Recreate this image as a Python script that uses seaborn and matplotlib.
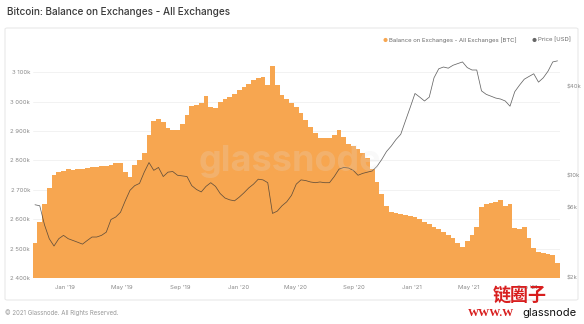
import numpy as np
import pandas as pd
import matplotlib
matplotlib.use("Agg")
import matplotlib.pyplot as plt
import matplotlib.dates as mdates
import matplotlib.ticker as mticker
from matplotlib.patches import FancyBboxPatch
import seaborn as sns

# ---------------- data ----------------
start_date = "2018-10-30"
step_days = 10

# Balance on exchanges, thousands of BTC, one value every 10 days
balance_k = [
    2520, 2590, 2650, 2705, 2750, 2760, 2765, 2770, 2768, 2772,
    2770, 2775, 2776, 2778, 2780, 2782, 2786, 2790, 2792, 2760,
    2745, 2785, 2800, 2825, 2885, 2935, 2942, 2930, 2910, 2902,
    2905, 2925, 2955, 2985, 2988, 2995, 3020, 2980, 2978, 2998,
    3008, 3016, 3025, 3038, 3048, 3060, 3072, 3080, 3084, 3055,
    3120, 3056, 3022, 3008, 2995, 2980, 2960, 2937, 2913, 2893,
    2876, 2876, 2876, 2888, 2905, 2880, 2857, 2848, 2840, 2825,
    2808, 2772, 2728, 2685, 2646, 2625, 2620, 2618, 2615, 2612,
    2606, 2600, 2592, 2583, 2574, 2565, 2556, 2546, 2536, 2520,
    2506, 2525, 2546, 2572, 2640, 2652, 2656, 2660, 2664, 2645,
    2652, 2570, 2568, 2572, 2535, 2503, 2488, 2484, 2480, 2478,
    2450,
]

# BTC price, thousands of USD, same dates
price_k = [
    6.3, 6.2, 4.6, 3.7, 3.3, 3.7, 3.9, 3.7, 3.6, 3.5,
    3.4, 3.6, 3.8, 3.8, 3.9, 4.1, 5.0, 5.2, 5.6, 6.7,
    7.9, 8.5, 8.8, 10.5, 12.2, 10.8, 11.3, 9.8, 10.5, 10.6,
    10.0, 9.9, 9.8, 8.5, 8.0, 7.7, 8.4, 8.9, 8.4, 7.5,
    7.0, 6.8, 6.7, 7.1, 7.6, 8.2, 8.7, 9.4, 9.3, 8.9,
    5.5, 5.7, 6.2, 6.6, 7.3, 8.7, 9.3, 9.2, 9.0, 8.9,
    9.0, 8.9, 8.9, 9.8, 11.0, 11.3, 11.2, 10.8, 10.0, 10.3,
    10.5, 10.7, 11.5, 12.8, 14.5, 15.8, 17.5, 19.0, 23.5, 29.0,
    36.0, 34.0, 32.0, 34.0, 46.0, 53.0, 54.5, 53.5, 56.0, 57.5,
    59.0, 54.0, 52.0, 52.0, 37.5, 35.5, 34.5, 33.5, 33.0, 32.0,
    29.5, 37.0, 41.0, 45.0, 47.0, 49.0, 43.0, 46.0, 51.0, 59.0,
    60.0,
]

left_ticks_k = [2400, 2500, 2600, 2700, 2800, 2900, 3000, 3100]
left_tick_labels = ["2 400k", "2 500k", "2 600k", "2 700k", "2 800k", "2 900k", "3 000k", "3 100k"]
right_ticks = [2000, 6000, 10000, 40000]
right_tick_labels = ["$2k", "$6k", "$10k", "$40k"]

title = "Bitcoin: Balance on Exchanges - All Exchanges"
legend_balance = "Balance on Exchanges - All Exchanges [BTC]"
legend_price = "Price [USD]"
footer = "\u00a9 2021 Glassnode. All Rights Reserved."

dates = pd.date_range(start_date, periods=len(balance_k), freq=f"{step_days}D")
df = pd.DataFrame({"date": dates,
                   "balance": np.array(balance_k) * 1000.0,
                   "price": np.array(price_k) * 1000.0})

# ---------------- figure ----------------
sns.set_theme(style="white")
plt.rcParams["font.family"] = ["Inter", "DejaVu Sans"]

W, H = 584, 324
fig = plt.figure(figsize=(W / 100, H / 100), dpi=100)
fig.patch.set_facecolor("white")

def fx(px):
    return px / W

def fy(py):
    return 1 - py / H

# card border
card = FancyBboxPatch((fx(5), fy(300)), fx(573) - fx(0), fy(28) - fy(300),
                      boxstyle="round,pad=0,rounding_size=0.004",
                      transform=fig.transFigure, facecolor="none",
                      edgecolor="#e9e9e9", linewidth=0.8, zorder=-5)
fig.patches.append(card)

ax_l, ax_r, ax_t, ax_b = 33, 560, 52, 278
ax = fig.add_axes([fx(ax_l), fy(ax_b), fx(ax_r) - fx(ax_l), fy(ax_t) - fy(ax_b)])
ax.set_facecolor("none")

orange = "#F7A650"
ax.bar(df["date"], df["balance"], width=9.6, color=orange, edgecolor="none",
       align="center", zorder=2)

d0 = pd.Timestamp(start_date)
px_per_day = 0.475
xmin = d0 - pd.Timedelta(days=(35 - ax_l) / px_per_day)
xmax = d0 + pd.Timedelta(days=(ax_r - 35) / px_per_day)
ax.set_xlim(xmin, xmax)
ax.set_ylim(2400e3, 2400e3 + (ax_b - ax_t) / 29.4 * 100e3)

ax.set_yticks([v * 1000 for v in left_ticks_k])
ax.set_yticklabels(left_tick_labels)
ax.grid(axis="y", color="#f0f0f0", linewidth=0.6, zorder=0)
ax.set_axisbelow(True)
ax.tick_params(axis="y", length=0, pad=2, labelsize=4.3, labelcolor="#8a8a8a")
ax.xaxis.set_major_locator(mdates.MonthLocator(bymonth=[1, 5, 9]))
ax.xaxis.set_major_formatter(mdates.DateFormatter("%b '%y"))
ax.tick_params(axis="x", length=0, pad=5, labelsize=4.3, labelcolor="#8a8a8a")
for s in ax.spines.values():
    s.set_visible(False)

# price on log twin axis
ax2 = ax.twinx()
sns.lineplot(data=df, x="date", y="price", ax=ax2, color="#333333",
             linewidth=0.55, alpha=0.75, zorder=3)
ax2.set_yscale("log")
ax2.set_ylim(2000, 2000 * 10 ** ((ax_b - ax_t) / 147.0))
ax2.set_xlim(xmin, xmax)
ax2.yaxis.set_major_locator(mticker.FixedLocator(right_ticks))
ax2.yaxis.set_minor_locator(mticker.NullLocator())
ax2.set_yticklabels(right_tick_labels)
ax2.tick_params(axis="y", length=0, pad=5, labelsize=4.3, labelcolor="#8a8a8a")
ax2.set_ylabel("")
ax2.set_xlabel("")
ax.set_xlabel("")
ax.set_ylabel("")
for s in ax2.spines.values():
    s.set_visible(False)

# faint centre watermark
fig.text(fx(290), fy(162), "glassnode", fontsize=26, color="#e2e2e2", alpha=0.2,
         ha="center", va="center", fontweight="bold", zorder=10)

# title
fig.text(fx(7), fy(12), title, fontsize=7.2, color="#3a3a3a", ha="left", va="center",
         fontweight="medium")

# legend
fig.text(fx(385), fy(40), "\u25cf", fontsize=4, color=orange, ha="center", va="center")
fig.text(fx(389), fy(40), legend_balance, fontsize=4.3, color="#6a6a6a", ha="left", va="center")
fig.text(fx(534), fy(40), "\u25cf", fontsize=4, color="#666666", ha="center", va="center")
fig.text(fx(538), fy(40), legend_price, fontsize=4.3, color="#6a6a6a", ha="left", va="center")

# footer
fig.text(fx(5), fy(313), footer, fontsize=4.4, color="#9a9a9a", ha="left", va="center")

# overlay watermarks at bottom right
fig.text(fx(520), fy(295), "链圈子", fontsize=13, color="#d81e1e", ha="center", va="center",
         fontweight="bold", family=["Noto Sans CJK SC", "DejaVu Sans"], zorder=20)
fig.text(fx(468), fy(313), "WWW.W", fontsize=8, color="#d81e1e", ha="left", va="center",
         fontweight="bold", family=["Liberation Serif", "DejaVu Serif"])
fig.text(fx(549), fy(313), "glassnode", fontsize=8, color="#111111", ha="center", va="center")

fig.savefig("out.png", dpi=100, facecolor="white")
